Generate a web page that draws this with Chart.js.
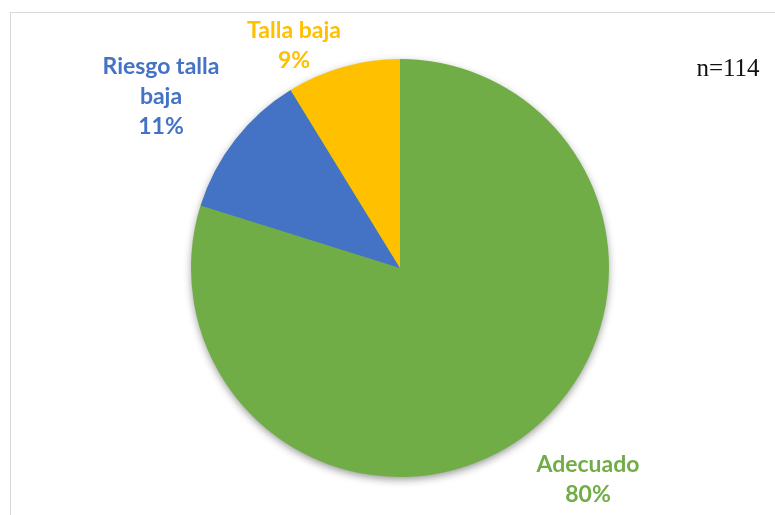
<!DOCTYPE html>
<html>
<head>
<meta charset="utf-8">
<script src="https://cdn.jsdelivr.net/npm/chart.js@4"></script>
<style>
html,body{margin:0;padding:0;background:#fff;}
#wrap{width:775px;height:515px;position:relative;}
</style>
</head>
<body>
<div id="wrap"><canvas id="c" width="775" height="515"></canvas></div>
<script>
const categories = ["Adecuado", "Riesgo talla baja", "Talla baja"];
const counts = [91, 13, 10];
const percentLabels = ["80%", "11%", "9%"];
const labelLines = [["Adecuado", "80%"], ["Riesgo talla", "baja", "11%"], ["Talla baja", "9%"]];
const colors = ["#70AD47", "#4472C4", "#FFC000"];
const sampleNote = "n=114";

// label anchor offsets (centre of text block) relative to pie centre
const labelOffsets = [[188, 212], [-239, -171], [-106, -222]];

const framePlugin = {
  id: 'frame',
  beforeDraw(chart) {
    const ctx = chart.ctx;
    ctx.save();
    ctx.fillStyle = '#ffffff';
    ctx.fillRect(0, 0, chart.width, chart.height);
    ctx.strokeStyle = '#d9d9d9';
    ctx.lineWidth = 1;
    ctx.strokeRect(10.5, 12.5, 900, 700);
    ctx.restore();
  },
  beforeDatasetsDraw(chart) {
    const arc = chart.getDatasetMeta(0).data[0];
    if (!arc) return;
    const ctx = chart.ctx;
    ctx.save();
    ctx.shadowColor = 'rgba(0,0,0,0.45)';
    ctx.shadowBlur = 9;
    ctx.shadowOffsetY = 3;
    ctx.beginPath();
    ctx.arc(arc.x, arc.y, arc.outerRadius - 1, 0, Math.PI * 2);
    ctx.fillStyle = colors[0];
    ctx.fill();
    ctx.restore();
  },
  afterDatasetsDraw(chart) {
    const meta = chart.getDatasetMeta(0);
    const ctx = chart.ctx;
    ctx.save();
    ctx.textAlign = 'center';
    ctx.textBaseline = 'middle';
    ctx.font = 'bold 23px Lato, "Open Sans", sans-serif';
    meta.data.forEach((arc, i) => {
      const lines = labelLines[i];
      const lh = 30;
      const cx = arc.x + labelOffsets[i][0];
      const cy = arc.y + labelOffsets[i][1];
      ctx.fillStyle = colors[i];
      lines.forEach((t, k) => {
        ctx.fillText(t, cx, cy + (k - (lines.length - 1) / 2) * lh);
      });
    });
    ctx.fillStyle = '#111111';
    ctx.font = '25px "Liberation Serif", "Times New Roman", serif';
    ctx.textAlign = 'center';
    ctx.textBaseline = 'alphabetic';
    const a = meta.data[0];
    ctx.fillText(sampleNote, a.x + 328, a.y - 192);
    ctx.restore();
  }
};

new Chart(document.getElementById('c'), {
  type: 'pie',
  data: {
    labels: categories,
    datasets: [{
      data: counts,
      backgroundColor: colors,
      borderWidth: 0,
      hoverOffset: 0
    }]
  },
  options: {
    responsive: false,
    animation: false,
    radius: 209,
    layout: { padding: { left: 175, right: 150, top: 40, bottom: 19 } },
    plugins: {
      legend: { display: false },
      tooltip: { enabled: false },
      title: { display: false }
    }
  },
  plugins: [framePlugin]
});
</script>
</body>
</html>
